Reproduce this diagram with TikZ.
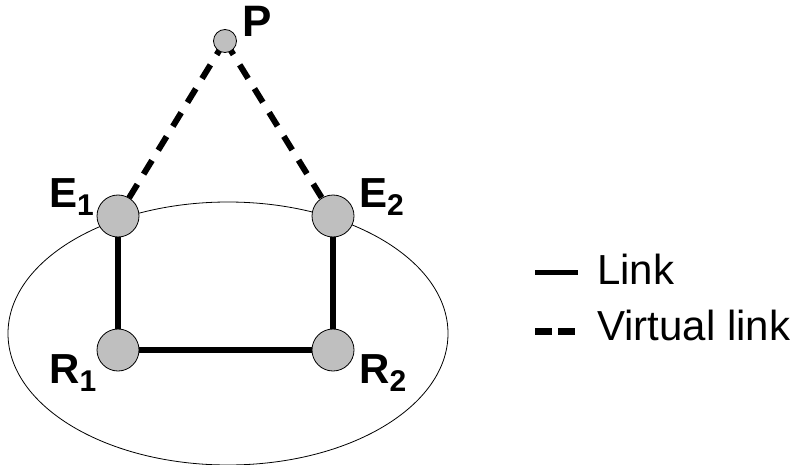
\documentclass[tikz,border=0pt]{standalone}
\usepackage{fontspec}
\setmainfont{Liberation Sans}
\usetikzlibrary{positioning}
\newcommand{\lowsub}[1]{\raisebox{-8pt}{\fontsize{30}{30}\selectfont #1}}
\begin{document}
\begin{tikzpicture}[x=1pt,y=-1pt]
\tikzstyle{n}=[draw,circle,fill=black!25,line width=0.8pt,minimum size=42pt,inner sep=0pt]
\tikzstyle{lbl}=[anchor=base west,inner sep=0pt,font=\fontsize{42}{42}\selectfont\bfseries]
\tikzstyle{link}=[line width=5.5pt]
\tikzstyle{vlink}=[line width=6pt,dash pattern=on 16pt off 12pt]
\useasboundingbox (0,0) rectangle (802,465);
   \draw[line width=0.8pt] (228,333.5) ellipse [x radius=220, y radius=131.5];

   \path (225,41) coordinate (p);
   \path [draw,vlink] (p) -- (118,216) coordinate (e1c);
   \path [draw,vlink] (p) -- (333,216) coordinate (e2c);

   \draw (p) node (P) [n,minimum size=23pt] {};
   \draw (118,216) node (e1) [n] {};
   \draw (333,216) node (e2) [n] {};
   \draw (118,350) node (r1) [n] {};
   \draw (333,350) node (r2) [n] {};
   \path [draw,link] (e1) -- (r1) ;
   \path [draw,link] (r1) -- (r2) ;
   \path [draw,link] (r2) -- (e2) ;

   \draw (242,37) node (lp) [lbl,font=\fontsize{44}{44}\selectfont\bfseries] {P};
   \draw (49,207) node (le1) [lbl] {E\lowsub{1}};
   \draw (359,207) node (le2) [lbl] {E\lowsub{2}};
   \draw (49,383) node (lr1) [lbl] {R\lowsub{1}};
   \draw (359,383) node (lr2) [lbl] {R\lowsub{2}};

   % legend
   \path (535,272) coordinate (l1a) (578,272) coordinate (l1b);
   \path (535,331) coordinate (l2a) (578,331) coordinate (l2b);
   \path [draw,line width=5pt] (l1a) -- (l1b) ;
   \path [draw,vlink,line width=7pt,dash pattern=on 17pt off 6pt] (l2a) -- (l2b) ;
   \draw (597,284) node (t1) [lbl,font=\fontsize{42}{42}\selectfont] {Link};
   \draw (597,340) node (t2) [lbl,font=\fontsize{42}{42}\selectfont] {Virtual link};
\end{tikzpicture}
\end{document}
